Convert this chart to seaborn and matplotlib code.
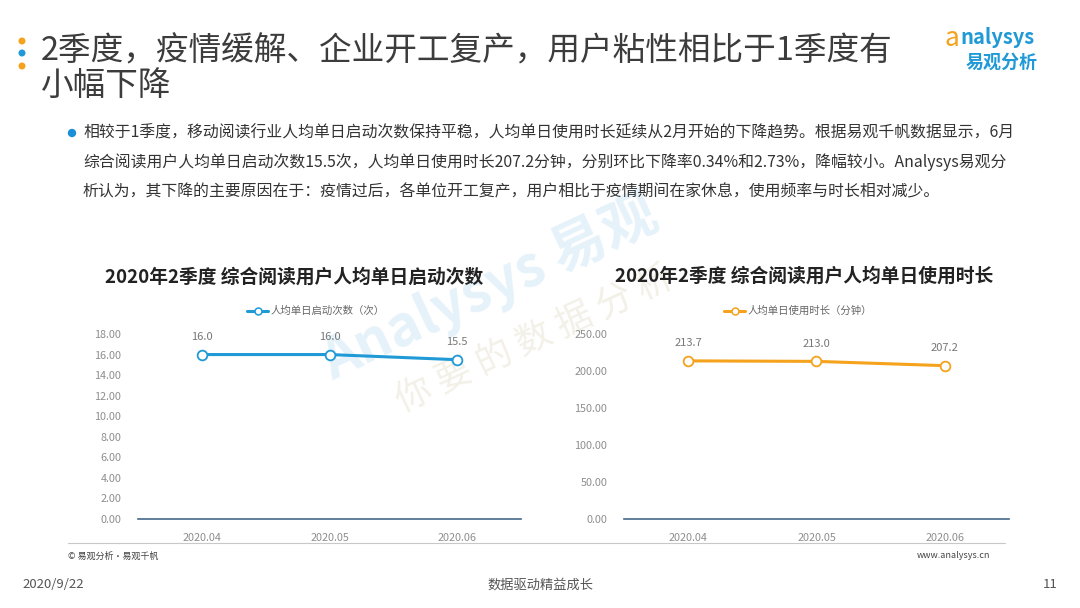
import numpy as np
import pandas as pd
import seaborn as sns
from matplotlib import pyplot as plt
from matplotlib.patches import Circle

sns.set_theme(style="white")
plt.rcParams['font.family'] = ['Noto Sans CJK SC', 'DejaVu Sans']
plt.rcParams['axes.unicode_minus'] = False

# data
months = ['2020.04', '2020.05', '2020.06']
starts = [16.0, 16.0, 15.5]
durations = [213.7, 213.0, 207.2]
starts_label = '人均单日启动次数（次）'
durations_label = '人均单日使用时长（分钟）'
left_title = '2020年2季度 综合阅读用户人均单日启动次数'
right_title = '2020年2季度 综合阅读用户人均单日使用时长'
left_ticks = np.arange(0, 19, 2)
right_ticks = np.arange(0, 251, 50)

blue = '#1f9ad6'
orange = '#f5a21c'
grey = '#8e8e8e'
axis_col = '#46698a'

fig = plt.figure(figsize=(10.8, 6.08), dpi=100)
fig.patch.set_facecolor('white')

# overlay in pixel coords for slide decorations
bg = fig.add_axes([0, 0, 1, 1])
bg.set_xlim(0, 1080)
bg.set_ylim(608, 0)
bg.axis('off')

# watermark (very faint)
bg.text(490, 288, 'Analysys 易观', fontsize=40, fontweight='bold', color='#e6f2fa',
        rotation=25, ha='center', va='center', zorder=0)
bg.text(535, 340, '你 要 的 数 据 分 析', fontsize=26, color='#f3f0e8',
        rotation=25, ha='center', va='center', zorder=0)

# header
for yy, c in [(41, orange), (53, blue), (66, orange)]:
    bg.add_patch(Circle((22, yy), 2.8, color=c))
bg.text(41, 52, '2季度，疫情缓解、企业开工复产，用户粘性相比于1季度有', fontsize=23.5,
        color='#3c3c3c', va='center', ha='left', fontweight='medium')
bg.text(41, 86, '小幅下降', fontsize=23.5, color='#3c3c3c', va='center', ha='left',
        fontweight='medium')

# logo
bg.text(945, 38, 'a', fontsize=19, color=orange, style='italic', va='center', ha='left')
bg.text(960, 38, 'nalysys', fontsize=14.5, color=blue, fontweight='bold', va='center', ha='left')
bg.text(1002, 62, '易观分析', fontsize=13, color=blue, fontweight='bold', va='center', ha='center')

# body text
bg.add_patch(Circle((72, 133), 3.5, color='#1a8fd8'))
body = ['相较于1季度，移动阅读行业人均单日启动次数保持平稳，人均单日使用时长延续从2月开始的下降趋势。根据易观千帆数据显示，6月',
        '综合阅读用户人均单日启动次数15.5次，人均单日使用时长207.2分钟，分别环比下降率0.34%和2.73%，降幅较小。Analysys易观分',
        '析认为，其下降的主要原因在于：疫情过后，各单位开工复产，用户相比于疫情期间在家休息，使用频率与时长相对减少。']
for i, line in enumerate(body):
    bg.text(83, 133 + i * 29.5, line, fontsize=11.4, color='#333333', va='center', ha='left')

# chart titles
bg.text(294, 277, left_title, fontsize=13.5, fontweight='bold', color='#222222', ha='center', va='center')
bg.text(804, 276, right_title, fontsize=13.5, fontweight='bold', color='#222222', ha='center', va='center')

# footer
bg.plot([68, 1005], [543, 543], color='#c8c8c8', lw=0.8)
bg.text(68, 556, '© 易观分析·易观千帆', fontsize=6.5, color='#444444', va='center', ha='left')
bg.text(990, 556, 'www.analysys.cn', fontsize=6.5, color='#444444', va='center', ha='right')
bg.text(22, 585, '2020/9/22', fontsize=9.5, color='#555555', va='center', ha='left')
bg.text(540, 585, '数据驱动精益成长', fontsize=9.5, color='#555555', va='center', ha='center')
bg.text(1058, 585, '11', fontsize=9.5, color='#555555', va='center', ha='right')


def draw_panel(rect, values, color, label, ticks, leg_x, fmt_lbl):
    ax = fig.add_axes(rect)
    ax.patch.set_alpha(0)
    d = pd.DataFrame({'month': months, 'value': values})
    sns.lineplot(data=d, x='month', y='value', ax=ax, color=color, lw=2.2,
                 marker='o', markersize=7, markerfacecolor='white',
                 markeredgecolor=color, markeredgewidth=1.3, clip_on=False, zorder=5)
    for i, v in enumerate(values):
        ax.annotate(fmt_lbl.format(v), (i, v), xytext=(0, 9), textcoords='offset points',
                    ha='center', va='bottom', fontsize=8, color='#777777')
    ax.set_xlim(-0.5, 2.5)
    ax.set_ylim(ticks[0], ticks[-1])
    ax.set_yticks(ticks)
    ax.set_yticklabels(['{:.2f}'.format(t) for t in ticks])
    ax.set_xlabel('')
    ax.set_ylabel('')
    ax.tick_params(axis='both', length=0, labelsize=7.8, labelcolor=grey)
    ax.tick_params(axis='y', pad=12)
    ax.tick_params(axis='x', pad=10)
    for s in ['top', 'right', 'left']:
        ax.spines[s].set_visible(False)
    ax.spines['bottom'].set_color(axis_col)
    ax.spines['bottom'].set_linewidth(1.2)
    ax.grid(False)
    # legend
    bg.plot([leg_x, leg_x + 21], [311, 311], color=color, lw=2.2)
    bg.plot([leg_x + 10.5], [311], marker='o', ms=5, mfc='white', mec=color, mew=1.1)
    bg.text(leg_x + 24, 311, label, fontsize=7.5, color='#666666', va='center', ha='left')
    return ax


draw_panel([138 / 1080, 89 / 608, 383 / 1080, 185 / 608], starts, blue,
           starts_label, left_ticks, 247, '{:.1f}')
draw_panel([624 / 1080, 89 / 608, 385 / 1080, 185 / 608], durations, orange,
           durations_label, right_ticks, 724, '{:.1f}')

fig.savefig('out.png', dpi=100, facecolor='white')
